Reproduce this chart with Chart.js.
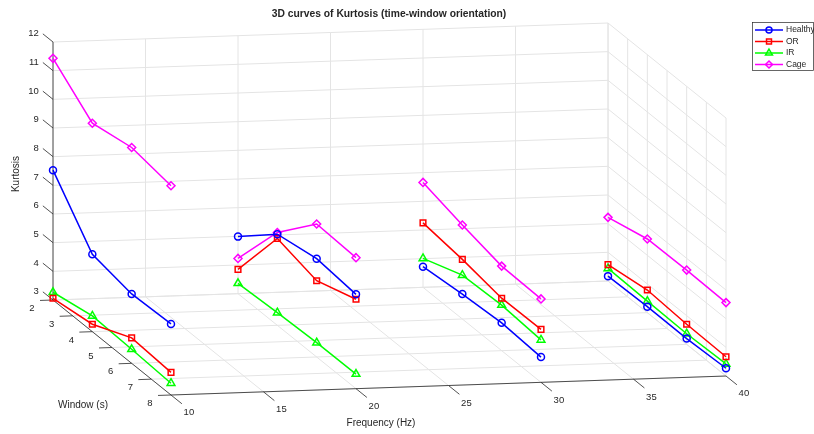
<!DOCTYPE html>
<html>
<head>
<meta charset="utf-8">
<title>Kurtosis 3D curves</title>
<script src="https://cdn.jsdelivr.net/npm/chart.js@4.4.0/dist/chart.umd.min.js"></script>
<style>
  html, body { margin: 0; padding: 0; background: #fff; }
  #wrap { position: relative; width: 814px; height: 434px; }
</style>
</head>
<body>
<div id="wrap"><canvas id="kurtChart"></canvas></div>
<script>
// ---------------- data ----------------
const freqs = [10, 20, 30, 40];          // Hz, one curve per frequency
const windows = [2, 4, 6, 8];            // s, points along each curve

// kurtosis, rows = frequency, columns = window
const healthy = [
    [7.53, 5.70, 5.42, 5.48],
    [4.99, 6.18, 6.43, 6.29],
    [3.72, 3.87, 3.97, 3.88],
    [3.17, 3.21, 3.20, 3.27]
];
const outerRace = [
    [3.06, 3.26, 3.89, 3.79],
    [3.85, 6.03, 5.66, 6.12],
    [5.25, 5.08, 4.83, 4.85],
    [3.57, 3.79, 3.70, 3.67]
];
const innerRace = [
    [3.27, 3.55, 3.49, 3.41],
    [3.36, 3.44, 3.50, 3.51],
    [4.01, 4.53, 4.59, 4.48],
    [3.44, 3.40, 3.37, 3.42]
];
const cage = [
    [11.43, 10.27, 10.53, 10.30],
    [4.23, 6.24, 7.64, 7.57],
    [6.66, 6.28, 5.95, 5.91],
    [5.22, 5.57, 5.59, 5.56]
];

const freqTicks = [10, 15, 20, 25, 30, 35, 40];
const windowTicks = [2, 3, 4, 5, 6, 7, 8];
const kurtTicks = [3, 4, 5, 6, 7, 8, 9, 10, 11, 12];

// ---------------- view ----------------
const FREQ_MIN = 10, FREQ_MAX = 40;
const WIN_MIN = 2, WIN_MAX = 8;
const Z_MIN = 3, Z_MAX = 12;

// screen position of the box corner (freq min, window min, z min) and edge vectors
const ORIGIN = [53, 300];
const U_EDGE = [555, -19];   // along frequency
const V_EDGE = [118, 95];    // along window
const Z_HEIGHT = 258;        // along kurtosis

function project(f, w, z) {
    const u = (f - FREQ_MIN) / (FREQ_MAX - FREQ_MIN);
    const v = (w - WIN_MIN) / (WIN_MAX - WIN_MIN);
    const t = (z - Z_MIN) / (Z_MAX - Z_MIN);
    return {
        x: ORIGIN[0] + u * U_EDGE[0] + v * V_EDGE[0],
        y: ORIGIN[1] + u * U_EDGE[1] + v * V_EDGE[1] - t * Z_HEIGHT
    };
}

function unit(vec) {
    const len = Math.hypot(vec[0], vec[1]);
    return [vec[0] / len, vec[1] / len];
}

// ---------------- series ----------------
const series = [
    { label: "Healthy", values: healthy, color: "#0000ff", style: "circle", radius: 3.5 },
    { label: "OR", values: outerRace, color: "#ff0000", style: "rect", radius: 4 },
    { label: "IR", values: innerRace, color: "#00ff00", style: "triangle", radius: 4.5 },
    { label: "Cage", values: cage, color: "#ff00ff", style: "rectRot", radius: 4 }
];

const datasets = [];
series.forEach(s => {
    freqs.forEach((f, i) => {
        datasets.push({
            label: s.label,
            data: windows.map((w, j) => project(f, w, s.values[i][j])),
            showLine: true,
            borderColor: s.color,
            borderWidth: 1.5,
            pointStyle: s.style,
            pointRadius: s.radius,
            pointBorderWidth: 1.5,
            pointBorderColor: s.color,
            pointBackgroundColor: "rgba(0,0,0,0)",
            clip: false
        });
    });
});

// ---------------- box, grid, ticks, labels ----------------
const GRID_COLOR = "#e4e4e4";
const AXIS_COLOR = "#262626";
const TEXT_COLOR = "#262626";
const FONT = "Liberation Sans, Arial, Helvetica, sans-serif";

const axes3d = {
    id: "axes3d",
    beforeDatasetsDraw(chart) {
        const ctx = chart.ctx;
        const xs = chart.scales.x, ys = chart.scales.y;
        const px = p => [xs.getPixelForValue(p.x), ys.getPixelForValue(p.y)];
        const seg = (a, b) => {
            const p = px(a), q = px(b);
            ctx.beginPath();
            ctx.moveTo(p[0], p[1]);
            ctx.lineTo(q[0], q[1]);
            ctx.stroke();
        };

        ctx.save();
        ctx.strokeStyle = GRID_COLOR;
        ctx.lineWidth = 1;

        // back wall (window = min)
        freqTicks.forEach(f => seg(project(f, WIN_MIN, Z_MIN), project(f, WIN_MIN, Z_MAX)));
        kurtTicks.forEach(z => seg(project(FREQ_MIN, WIN_MIN, z), project(FREQ_MAX, WIN_MIN, z)));
        // right wall (frequency = max)
        windowTicks.forEach(w => seg(project(FREQ_MAX, w, Z_MIN), project(FREQ_MAX, w, Z_MAX)));
        kurtTicks.forEach(z => seg(project(FREQ_MAX, WIN_MIN, z), project(FREQ_MAX, WIN_MAX, z)));
        // floor
        windowTicks.forEach(w => seg(project(FREQ_MIN, w, Z_MIN), project(FREQ_MAX, w, Z_MIN)));
        freqTicks.forEach(f => seg(project(f, WIN_MIN, Z_MIN), project(f, WIN_MAX, Z_MIN)));

        // axis lines
        ctx.strokeStyle = AXIS_COLOR;
        ctx.lineWidth = 0.8;
        seg(project(FREQ_MIN, WIN_MIN, Z_MIN), project(FREQ_MIN, WIN_MIN, Z_MAX));
        seg(project(FREQ_MIN, WIN_MIN, Z_MIN), project(FREQ_MIN, WIN_MAX, Z_MIN));
        seg(project(FREQ_MIN, WIN_MAX, Z_MIN), project(FREQ_MAX, WIN_MAX, Z_MIN));

        // tick marks
        const vDir = unit(V_EDGE), uDir = unit(U_EDGE);
        const tick = (p, dir, len) => {
            seg(p, { x: p.x + dir[0] * len, y: p.y + dir[1] * len });
        };
        kurtTicks.forEach(z => tick(project(FREQ_MIN, WIN_MIN, z), [-vDir[0], -vDir[1]], 13));
        windowTicks.forEach(w => tick(project(FREQ_MIN, w, Z_MIN), [-uDir[0], -uDir[1]], 13));
        freqTicks.forEach(f => tick(project(f, WIN_MAX, Z_MIN), vDir, 14));
        ctx.restore();
    },
    afterDatasetsDraw(chart) {
        const ctx = chart.ctx;
        const xs = chart.scales.x, ys = chart.scales.y;
        const px = p => [xs.getPixelForValue(p.x), ys.getPixelForValue(p.y)];
        const vDir = unit(V_EDGE), uDir = unit(U_EDGE);

        ctx.save();
        ctx.fillStyle = TEXT_COLOR;
        ctx.font = "9.5px " + FONT;
        ctx.textBaseline = "middle";

        // kurtosis tick labels
        ctx.textAlign = "right";
        kurtTicks.forEach(z => {
            const p = px(project(FREQ_MIN, WIN_MIN, z));
            ctx.fillText(String(z), p[0] - vDir[0] * 13 - 4, p[1] - vDir[1] * 13);
        });
        // window tick labels
        ctx.textAlign = "center";
        windowTicks.forEach(w => {
            const p = px(project(FREQ_MIN, w, Z_MIN));
            ctx.fillText(String(w), p[0] - uDir[0] * 13 - 8, p[1] - uDir[1] * 13 + 8);
        });
        // frequency tick labels
        freqTicks.forEach(f => {
            const p = px(project(f, WIN_MAX, Z_MIN));
            ctx.fillText(String(f), p[0] + vDir[0] * 14 + 7, p[1] + vDir[1] * 14 + 9);
        });

        // axis titles
        ctx.font = "10px " + FONT;
        ctx.fillText("Frequency (Hz)", 381, 423);
        ctx.fillText("Window (s)", 83, 405);
        ctx.save();
        ctx.translate(16, 174);
        ctx.rotate(-Math.PI / 2);
        ctx.fillText("Kurtosis", 0, 0);
        ctx.restore();

        // title
        ctx.font = "bold 10.3px " + FONT;
        ctx.fillText("3D curves of Kurtosis (time-window orientation)", 389, 14);

        // legend
        const box = { x: 752, y: 22, w: 61, h: 48 };
        ctx.fillStyle = "#fff";
        ctx.fillRect(box.x, box.y, box.w, box.h);
        ctx.strokeStyle = AXIS_COLOR;
        ctx.lineWidth = 0.7;
        ctx.strokeRect(box.x + 0.5, box.y + 0.5, box.w, box.h);
        ctx.font = "8.5px " + FONT;
        ctx.textAlign = "left";
        series.forEach((s, i) => {
            const y = 30 + i * 11.5;
            ctx.strokeStyle = s.color;
            ctx.lineWidth = 1.5;
            ctx.beginPath();
            ctx.moveTo(755, y);
            ctx.lineTo(783, y);
            ctx.stroke();
            ctx.fillStyle = "rgba(0,0,0,0)";
            Chart.helpers.drawPoint(ctx, {
                pointStyle: s.style, radius: s.radius - 0.5, rotation: 0, borderWidth: 1.5
            }, 769, y);
            ctx.fillStyle = TEXT_COLOR;
            ctx.fillText(s.label, 786, y);
        });
        ctx.restore();
    }
};

// ---------------- chart ----------------
new Chart(document.getElementById("kurtChart"), {
    type: "scatter",
    data: { datasets },
    options: {
        responsive: true,
        maintainAspectRatio: false,
        animation: false,
        events: [],
        layout: { padding: 0, autoPadding: false },
        scales: {
            x: { type: "linear", min: 0, max: 814, display: false },
            y: { type: "linear", min: 0, max: 434, reverse: true, display: false }
        },
        plugins: {
            legend: { display: false },
            tooltip: { enabled: false }
        }
    },
    plugins: [axes3d]
});
</script>
</body>
</html>
